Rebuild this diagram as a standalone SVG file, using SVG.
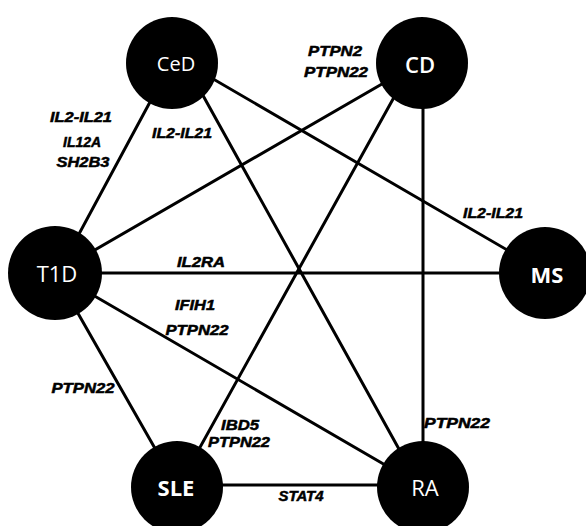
<svg xmlns="http://www.w3.org/2000/svg" width="586" height="526" viewBox="0 0 586 526">
  <style>
    .edge { stroke: #000; stroke-width: 3; stroke-linecap: round; fill: none; }
    .node circle { fill: #000; }
    .node text { fill: #fff; font-family: "Open Sans", "Noto Sans", "DejaVu Sans", sans-serif; font-size: 22px; font-weight: 600; text-anchor: middle; dominant-baseline: central; }
    .lbl { fill: #000; stroke: #000; stroke-width: 0.5; font-family: "Liberation Sans", Arial, sans-serif; font-size: 14px; font-weight: bold; font-style: italic; text-anchor: middle; }
  </style>
  <rect width="586" height="526" fill="#fff"/>

  <g id="connectors">
    <!-- CeD links -->
    <line class="edge" x1="171" y1="63" x2="58" y2="273"/>
    <line class="edge" x1="185" y1="63" x2="420" y2="487"/>
    <line class="edge" x1="172" y1="55" x2="545" y2="272"/>
    <!-- CD links -->
    <line class="edge" x1="420" y1="62" x2="55" y2="273"/>
    <line class="edge" x1="413" y1="63" x2="178" y2="487"/>
    <line class="edge" x1="423" y1="63" x2="423" y2="487"/>
    <!-- T1D links -->
    <line class="edge" x1="55" y1="273" x2="545" y2="273"/>
    <line class="edge" x1="55" y1="273" x2="423" y2="487"/>
    <line class="edge" x1="55" y1="273" x2="177" y2="487"/>
    <!-- SLE - RA -->
    <line class="edge" x1="177" y1="485" x2="423" y2="485"/>
  </g>

  <g id="edge-labels">
    <text class="lbl" x="81" y="122" textLength="62" lengthAdjust="spacingAndGlyphs">IL2-IL21</text>
    <text class="lbl" x="82" y="147" textLength="38" lengthAdjust="spacingAndGlyphs">IL12A</text>
    <text class="lbl" x="83" y="167" textLength="53" lengthAdjust="spacingAndGlyphs">SH2B3</text>
    <text class="lbl" x="182" y="138" textLength="60" lengthAdjust="spacingAndGlyphs">IL2-IL21</text>
    <text class="lbl" x="335" y="56" textLength="54" lengthAdjust="spacingAndGlyphs">PTPN2</text>
    <text class="lbl" x="336" y="77" textLength="64" lengthAdjust="spacingAndGlyphs">PTPN22</text>
    <text class="lbl" x="493" y="218" textLength="60" lengthAdjust="spacingAndGlyphs">IL2-IL21</text>
    <text class="lbl" x="201" y="267" textLength="48" lengthAdjust="spacingAndGlyphs">IL2RA</text>
    <text class="lbl" x="195" y="310" textLength="40" lengthAdjust="spacingAndGlyphs">IFIH1</text>
    <text class="lbl" x="197" y="335" textLength="63" lengthAdjust="spacingAndGlyphs">PTPN22</text>
    <text class="lbl" x="83" y="393" textLength="63" lengthAdjust="spacingAndGlyphs">PTPN22</text>
    <text class="lbl" x="240" y="430" textLength="38" lengthAdjust="spacingAndGlyphs">IBD5</text>
    <text class="lbl" x="239" y="447" textLength="62" lengthAdjust="spacingAndGlyphs">PTPN22</text>
    <text class="lbl" x="301" y="501" textLength="45" lengthAdjust="spacingAndGlyphs">STAT4</text>
    <text class="lbl" x="457" y="428" textLength="66" lengthAdjust="spacingAndGlyphs">PTPN22</text>
  </g>

  <g id="CeD" class="node">
    <circle cx="172" cy="63" r="46"/>
    <text x="176" y="63" style="font-weight:400;font-size:20px">CeD</text>
  </g>
  <g id="CD" class="node">
    <circle cx="422" cy="63" r="46"/>
    <text x="420" y="64">CD</text>
  </g>
  <g id="T1D" class="node">
    <circle cx="55" cy="273" r="47"/>
    <text x="57" y="273" style="font-weight:400">T1D</text>
  </g>
  <g id="MS" class="node">
    <circle cx="545" cy="273" r="46"/>
    <text x="547" y="274" style="font-weight:700">MS</text>
  </g>
  <g id="SLE" class="node">
    <circle cx="177" cy="487" r="46"/>
    <text x="176" y="487" style="font-weight:700">SLE</text>
  </g>
  <g id="RA" class="node">
    <circle cx="423" cy="487" r="46"/>
    <text x="425" y="487" style="font-weight:400">RA</text>
  </g>
</svg>
